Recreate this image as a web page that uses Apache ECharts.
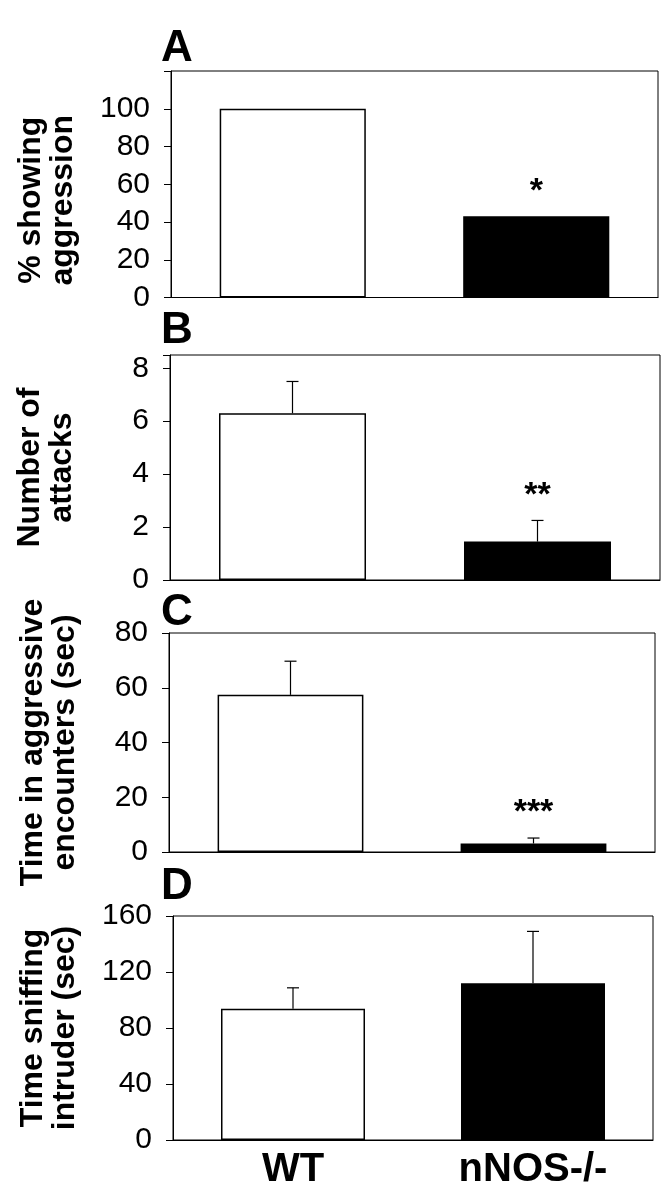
<!DOCTYPE html>
<html>
<head>
<meta charset="utf-8">
<script src="https://cdn.jsdelivr.net/npm/echarts@6/dist/echarts.min.js"></script>
<style>
html,body{margin:0;padding:0;background:#fff;}
#chart{width:671px;height:1199px;}
</style>
</head>
<body>
<div id="chart"></div>
<script>
// ---- data ----
var categories = ['WT', 'nNOS-/-'];
var panelLetters = ['A', 'B', 'C', 'D'];
var yNames = ['% showing\naggression', 'Number of\nattacks', 'Time in aggressive\nencounters (sec)', 'Time sniffing\nintruder (sec)'];

var pctAggression = [100, 43];
var pctAggressionErr = [0, 0];
var attacks = [6.3, 1.45];
var attacksErr = [1.2, 0.8];
var timeAggressive = [57.4, 3.1];
var timeAggressiveErr = [12.3, 2.0];
var timeSniffing = [93.7, 112];
var timeSniffingErr = [15, 37];

var sigA = ['', '*'];
var sigB = ['', '**'];
var sigC = ['', '***'];
var sigD = ['', ''];

var yMax = [120, 8.5, 80, 160];
var yInterval = [20, 2, 20, 40];
var yMaxLabel = [100, 8, 80, 160];

var values = [pctAggression, attacks, timeAggressive, timeSniffing];
var errors = [pctAggressionErr, attacksErr, timeAggressiveErr, timeSniffingErr];
var sigs = [sigA, sigB, sigC, sigD];

// ---- layout ----
var grids = [
  {left: 171, top: 71, width: 487, height: 226.5},
  {left: 170, top: 355, width: 490, height: 225},
  {left: 169, top: 633, width: 486, height: 219},
  {left: 173, top: 916, width: 480, height: 224}
];
var letterTops = [22, 304, 586, 860];
var nameGaps = [92, 92, 88, 92];
var namePads = [[0, 32, 0, 0], 0, 0, 0];
var FONT = 'Liberation Sans, Arial, sans-serif';

var option = {
  backgroundColor: '#fff',
  animation: false,
  title: panelLetters.map(function (l, i) {
    return {text: l, left: 156, top: letterTops[i],
      textStyle: {fontSize: 44, fontWeight: 'bold', color: '#000', fontFamily: FONT}};
  }),
  grid: grids.map(function (g) {
    return Object.assign({show: true, borderColor: '#000', borderWidth: 1, containLabel: false}, g);
  }),
  xAxis: grids.map(function (g, i) {
    return {
      type: 'category', gridIndex: i, data: categories,
      axisTick: {show: false},
      axisLine: {show: true, lineStyle: {color: '#000', width: 1}},
      axisLabel: {show: i === 3, color: '#000', fontSize: 40, fontWeight: 'bold', fontFamily: FONT, margin: 10}
    };
  }),
  yAxis: grids.map(function (g, i) {
    return {
      type: 'value', gridIndex: i, min: 0, max: yMax[i], interval: yInterval[i],
      name: yNames[i], nameLocation: 'middle', nameRotate: 90, nameGap: nameGaps[i],
      nameTextStyle: {fontSize: 32, fontWeight: 'bold', color: '#000', fontFamily: FONT, lineHeight: 32, padding: namePads[i]},
      splitLine: {show: false},
      axisLine: {show: true, lineStyle: {color: '#000', width: 1}},
      axisTick: {show: true, inside: false, length: 7, lineStyle: {color: '#000'}},
      axisLabel: {color: '#000', fontSize: 30, fontFamily: FONT, margin: 21,
        formatter: function (v) {
          return (v % yInterval[i] === 0 && v <= yMaxLabel[i]) ? String(v) : '';
        }}
    };
  }),
  series: []
};

values.forEach(function (vals, i) {
  option.series.push({
    type: 'bar', xAxisIndex: i, yAxisIndex: i, barWidth: '60%',
    data: vals.map(function (v, k) {
      return {value: v, itemStyle: {color: k === 0 ? '#fff' : '#000', borderColor: '#000', borderWidth: 1.5}};
    })
  });
  option.series.push({
    type: 'custom', xAxisIndex: i, yAxisIndex: i, z: 5,
    data: vals.map(function (v, k) { return [k, v, errors[i][k]]; }),
    renderItem: function (params, api) {
      var x = api.value(0), v = api.value(1), e = api.value(2);
      var p0 = api.coord([x, v]);
      var p1 = api.coord([x, v + e]);
      var children = [];
      if (e > 0) {
        children.push({type: 'line', shape: {x1: p0[0], y1: p0[1], x2: p1[0], y2: p1[1]}, style: {stroke: '#000', lineWidth: 1.2}});
        children.push({type: 'line', shape: {x1: p1[0] - 6, y1: p1[1], x2: p1[0] + 6, y2: p1[1]}, style: {stroke: '#000', lineWidth: 1.2}});
      }
      var s = sigs[i][params.dataIndex];
      if (s) {
        children.push({type: 'text', style: {text: s, x: p1[0], y: p1[1] - 25, align: 'center', verticalAlign: 'middle',
          fontSize: 34, fontWeight: 'bold', fill: '#000', fontFamily: FONT}});
      }
      return {type: 'group', children: children};
    }
  });
});

var chart = echarts.init(document.getElementById('chart'), null, {renderer: 'canvas'});
chart.setOption(option);
</script>
</body>
</html>
